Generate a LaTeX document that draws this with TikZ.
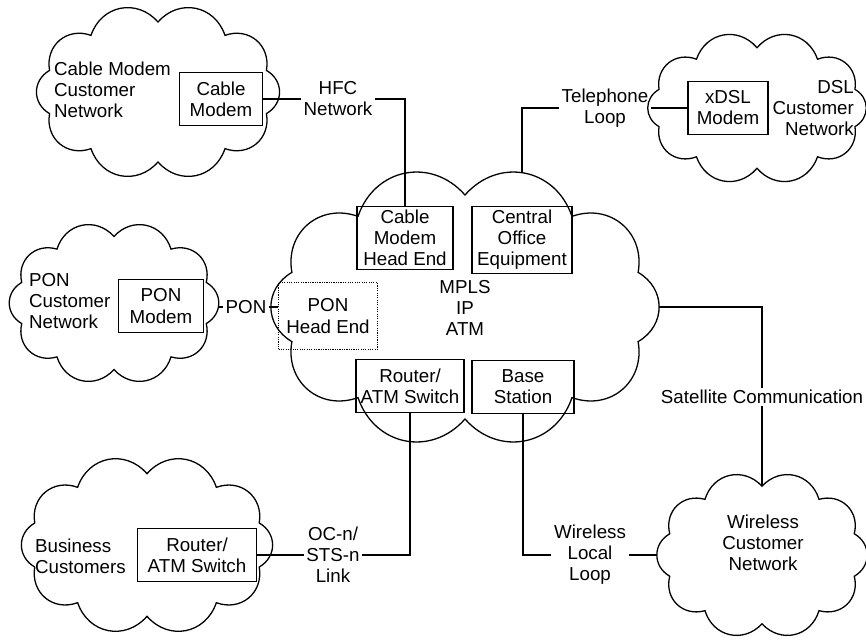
\documentclass[tikz,border=0pt]{standalone}
\usepackage{fontspec}
\setmainfont{Liberation Sans}
\usepackage{tikz}
\usetikzlibrary{backgrounds}

\tikzset{
  net/.style={draw, fill=white, line width=1.1pt},
  box/.style={draw, line width=1pt, align=center, inner xsep=4pt, inner ysep=3pt,
    minimum height=1.6cm},
  lbl/.style={align=center, inner sep=2pt},
  link/.style={line width=0.9pt}
}
% cloud outline round a named centre: centre, x radius, y radius
\newcommand{\netcloud}[3]{%
  \draw[net] ([shift={(#1)}]18:#2 and #3)
    \foreach \a in {54,90,...,378} {to[bend left=60, looseness=1.2] ([shift={(#1)}]\a:#2 and #3)} -- cycle;}

\begin{document}
\begin{tikzpicture}[x=0.03cm,y=-0.03cm,
    font=\fontsize{16}{18}\selectfont]
  \useasboundingbox (0,0) rectangle (866,643);

  % the networks
  \coordinate (cmnet)  at (158,92);
  \coordinate (dslnet) at (757,108);
  \coordinate (mpls)   at (465,307);
  \coordinate (ponnet) at (114,303);
  \coordinate (biznet) at (147,545);
  \coordinate (wcl)    at (762,555);
  \netcloud{cmnet}{114}{70}
  \netcloud{dslnet}{103}{60.3}
  \netcloud{mpls}{182}{112}
  \netcloud{ponnet}{97}{66.6}
  \netcloud{biznet}{118}{71.3}
  \netcloud{wcl}{97}{68.8}

  \node[align=left, anchor=west]  (cmtxt)  at (50,90)   {Cable Modem\\Customer\\Network};
  \node[align=right, anchor=east] (dsltxt) at (858,108) {DSL\\Customer\\Network};
  \node[align=left, anchor=west]  (pontxt) at (25,301)  {PON\\Customer\\Network};
  \node[align=left, anchor=west]  (biztxt) at (31,556)  {Business\\Customers};
  \node[align=center]             (wtxt)   at (763,543) {Wireless\\Customer\\Network};
  \node[align=center]             (core)   at (465,308) {MPLS\\IP\\ATM};

  % equipment
  \node[box, minimum width=2.5cm]  (cm)    at (221,99)  {Cable\\Modem};
  \node[box, minimum width=2.4cm]  (xdsl)  at (728,108) {xDSL\\Modem};
  \node[box, minimum width=2.55cm] (ponm)  at (161,306) {PON\\Modem};
  \node[box, minimum width=3.57cm] (brtr)  at (197,555) {Router/\\ATM Switch};
  \node[box, minimum width=2.88cm] (cmhe)  at (405,238) {Cable\\Modem\\Head End};
  \node[box, minimum width=3cm]    (coe)   at (522,240) {Central\\Office\\Equipment};
  \node[box, densely dotted, minimum width=2.97cm, minimum height=2cm] (ponhe) at (328,316) {PON\\Head End};
  \node[box, minimum width=3.18cm] (crtr)  at (410,386) {Router/\\ATM Switch};
  \node[box, minimum width=3.06cm] (base)  at (523,387) {Base\\Station};

  % links
  \node[lbl] (hfc) at (338,99)  {HFC\\Network};
  \node[lbl] (tel) at (605,108) {Telephone\\Loop};
  \node[lbl] (pon) at (246,307) {PON};
  \node[lbl] (ocn) at (333,555) {OC-n/\\STS-n\\Link};
  \node[lbl] (wll) at (590,555) {Wireless\\Local\\Loop};
  \node[lbl] (sat) at (762,397) {Satellite Communication};

  \begin{scope}[on background layer={link}]
    \draw (tel) -| (coe);
    \draw (mpls) -| (sat);
    \draw (sat) -- (wcl);
    \draw (pon -| ponnet) -- (pon);
    \draw (wll) -- (wcl);
  \end{scope}

  \begin{scope}[link]
    \draw (cm) -- (hfc);
    \draw (hfc) -| (cmhe);
    \draw (tel) -- (xdsl);
    \draw (pon) -- (pon -| ponhe.west);
    \draw (brtr) -- (ocn);
    \draw (ocn) -| (crtr);
    \draw (base) |- (wll);
  \end{scope}
\end{tikzpicture}
\end{document}
